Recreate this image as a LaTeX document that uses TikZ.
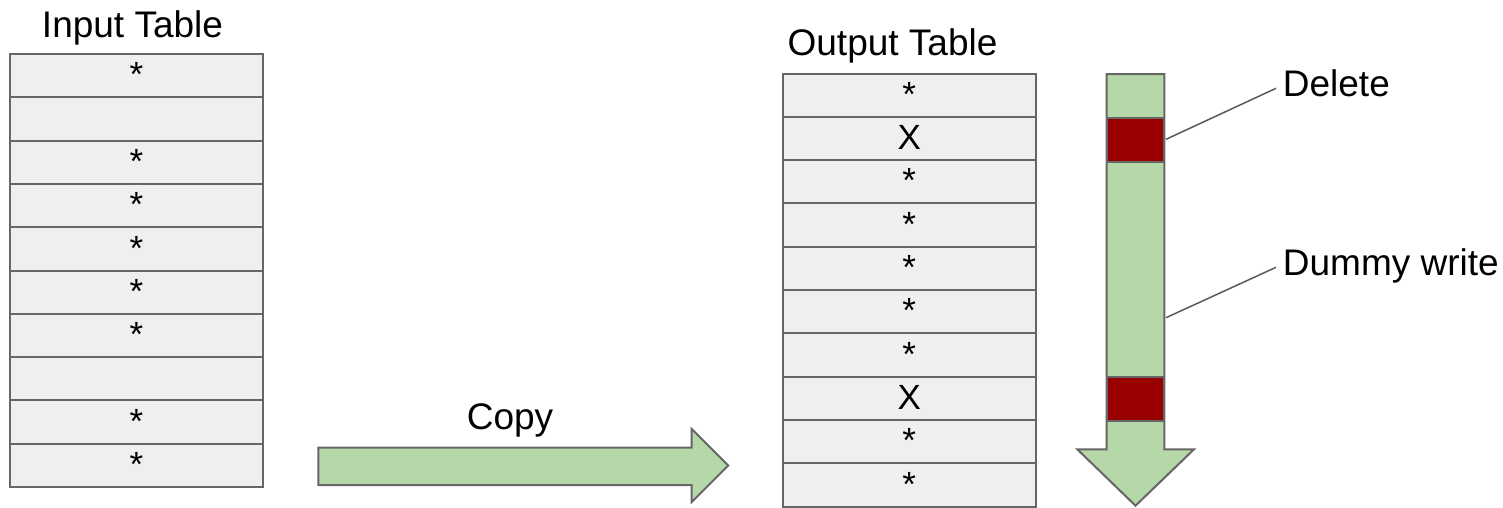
\documentclass[tikz,border=0pt]{standalone}
\usepackage{fontspec}
\setmainfont{Liberation Sans}
\definecolor{cellfill}{HTML}{EFEFEF}
\definecolor{cellline}{HTML}{666666}
\definecolor{arrgreen}{HTML}{B6D7A8}
\definecolor{delred}{HTML}{990000}
\definecolor{callout}{HTML}{595959}
\begin{document}
\begin{tikzpicture}[x=1pt,y=-1pt,
  cellbox/.style={draw=cellline, fill=cellfill, line width=2pt, minimum width=253pt, minimum height=43.3pt, inner sep=0pt,
    font=\fontsize{35}{40}\selectfont, text height=29pt, text depth=6.6pt},
  bigtext/.style={font=\fontsize{37}{42}\selectfont, inner sep=0pt},
  shapeline/.style={draw=cellline, line width=2pt, fill=arrgreen, line join=miter},
  redblock/.style={draw=cellline, line width=2pt, fill=delred},
  calloutline/.style={draw=callout, line width=1.5pt}]
\useasboundingbox (0,0) rectangle (1503,507);

% Input table
\node[bigtext, anchor=base] (inlabel) at (132.5,37) {Input Table};
\foreach \t [count=\i from 0] in {*,{},*,*,*,*,*,{},*,*} {
  \node[cellbox] (in\i) at (136.5,{54+43.3*\i+21.65}) {\t};
}

% Output table
\node[bigtext, anchor=base] (outlabel) at (892.5,55) {Output Table};
\foreach \t [count=\i from 0] in {*,X,*,*,*,*,*,X,*,*} {
  \node[cellbox] (out\i) at (909.2,{73.5+43.3*\i+21.65}) {\t};
}

% Copy arrow
\path[shapeline] (318.3,447.7) -- (691.7,447.7) -- (691.7,429) -- (728.3,465.5)
  -- (691.7,502) -- (691.7,485) -- (318.3,485) -- cycle;
\node[bigtext, anchor=base] (copy) at (510,429) {Copy};

% Down arrow
\path[shapeline] (1106.7,74) -- (1164.3,74) -- (1164.3,449.3) -- (1194,449.3)
  -- (1135.5,505.7) -- (1077.3,449.3) -- (1106.7,449.3) -- cycle;
\path[redblock] (1106.7,118.3) rectangle (1164.3,161.7);
\path[redblock] (1106.7,376.7) rectangle (1164.3,421);

% Callouts
\node[bigtext, anchor=base west] (del) at (1282.7,96) {Delete};
\node[bigtext, anchor=base west] (dummy) at (1282.7,275) {Dummy write};
\coordinate (delstart) at (1166,139.3);
\coordinate (delend) at (1276,88.3);
\coordinate (dumstart) at (1166,317.7);
\coordinate (dumend) at (1276,267.3);
\draw[calloutline] (delstart) -- (delend);
\draw[calloutline] (dumstart) -- (dumend);
\end{tikzpicture}
\end{document}
